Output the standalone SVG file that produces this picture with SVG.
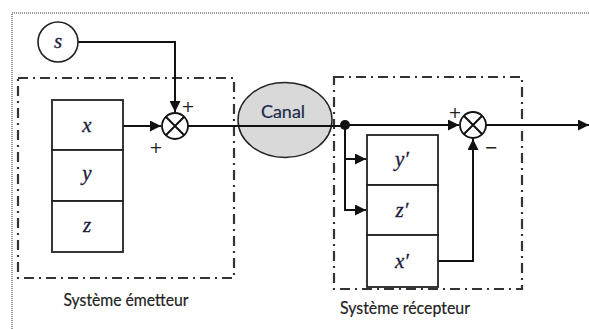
<svg xmlns="http://www.w3.org/2000/svg" width="589" height="329" viewBox="0 0 589 329">
<style>
.frame{fill:none;stroke:#999;stroke-width:2;stroke-dasharray:1 1}
.sys{fill:none;stroke:#333;stroke-width:2.2;stroke-dasharray:10 5 2 5}
.box{fill:#fff;stroke:#222;stroke-width:1.8}
.ln{fill:none;stroke:#111;stroke-width:2}
.var{font-family:"Liberation Serif",serif;font-style:italic;font-size:21px;fill:#1c1c3c;text-anchor:middle;stroke:#1c1c3c;stroke-width:0.3}
.lbl{font-family:Lato,"Open Sans",sans-serif;font-size:17px;fill:#222;text-anchor:middle;stroke:#222;stroke-width:0.2}
.sign{font-family:"DejaVu Sans",sans-serif;font-size:16px;fill:#222;text-anchor:middle}
</style>
<defs>
<marker id="ahb" viewBox="0 0 10 10" refX="10" refY="5" markerWidth="11" markerHeight="11" markerUnits="userSpaceOnUse" orient="auto">
<path d="M0,0 L10,5 L0,10 z" fill="#111"/>
</marker>
</defs>
<path class="frame" d="M12,329 V13 H589"/>
<g id="emetteur">
<rect class="sys" x="18" y="78" width="216" height="200"/>
<text class="lbl" x="126" y="306" textLength="125" lengthAdjust="spacingAndGlyphs">Système émetteur</text>
</g>
<g id="recepteur">
<rect class="sys" x="334" y="77" width="188" height="212"/>
<text class="lbl" x="405" y="314" textLength="130" lengthAdjust="spacingAndGlyphs">Système récepteur</text>
</g>
<g id="connectors">
<path class="ln" d="M78,42 H175 V112" marker-end="url(#ahb)"/>
<path class="ln" d="M123,126 H161" marker-end="url(#ahb)"/>
<path class="ln" d="M188,126 H345"/>
<path class="ln" d="M345,125 H459" marker-end="url(#ahb)"/>
<path class="ln" d="M486,125 H589" marker-end="url(#ahb)"/>
<path class="ln" d="M345,125 V210 H366" marker-end="url(#ahb)"/>
<path class="ln" d="M345,159 H366" marker-end="url(#ahb)"/>
<path class="ln" d="M438,261 H473 V139" marker-end="url(#ahb)"/>
<circle cx="345" cy="125" r="5" fill="#111"/>
</g>
<g id="s">
<ellipse cx="58" cy="42" rx="20" ry="20" fill="#fff" stroke="#222" stroke-width="1.6"/>
<text class="var" x="58" y="48">s</text>
</g>
<g id="x">
<rect class="box" x="52" y="100" width="71" height="50"/>
<text class="var" x="87" y="132">x</text>
</g>
<g id="y">
<rect class="box" x="52" y="150" width="71" height="51"/>
<text class="var" x="87" y="180">y</text>
</g>
<g id="z">
<rect class="box" x="52" y="201" width="71" height="51"/>
<text class="var" x="87" y="232">z</text>
</g>
<g id="sum1">
<circle cx="175" cy="126" r="13" fill="#fff" stroke="#111" stroke-width="1.8"/>
<path class="ln" d="M165.8,116.8 L184.2,135.2 M184.2,116.8 L165.8,135.2"/>
<text class="sign" x="188" y="112">+</text>
<text class="sign" x="156" y="153">+</text>
</g>
<g id="canal">
<ellipse cx="285" cy="120" rx="47" ry="37.5" fill="#d9d9d9" stroke="#222" stroke-width="1.5"/>
<path class="ln" d="M238,126 H332"/>
<text x="283" y="118" font-family="Lato, Open Sans, sans-serif" font-size="18" fill="#1c2c4c" stroke="#1c2c4c" stroke-width="0.2" text-anchor="middle">Canal</text>
</g>
<g id="yp">
<rect class="box" x="367" y="135" width="71" height="50"/>
<text class="var" x="402" y="166">y′</text>
</g>
<g id="zp">
<rect class="box" x="367" y="185" width="71" height="50"/>
<text class="var" x="402" y="217">z′</text>
</g>
<g id="xp">
<rect class="box" x="367" y="235" width="71" height="52"/>
<text class="var" x="402" y="268">x′</text>
</g>
<g id="sum2">
<circle cx="473" cy="125" r="13" fill="#fff" stroke="#111" stroke-width="1.8"/>
<path class="ln" d="M463.8,115.8 L482.2,134.2 M482.2,115.8 L463.8,134.2"/>
<text class="sign" x="455" y="118">+</text>
<text class="sign" x="491" y="153">−</text>
</g>
</svg>
